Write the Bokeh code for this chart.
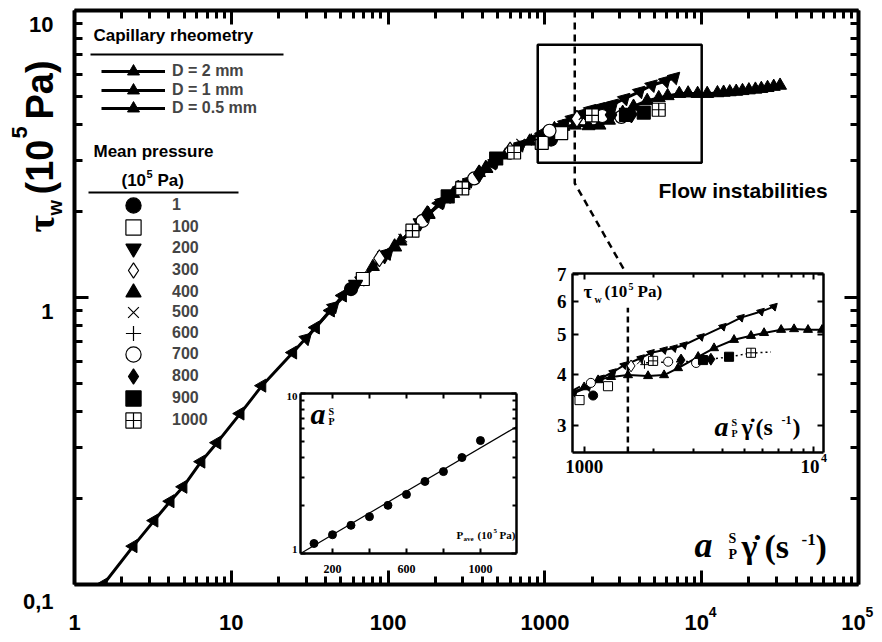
import math
from bokeh.plotting import figure
from bokeh.models import (FixedTicker, LogAxis, LinearAxis, Label, Legend, LegendItem,
                          BoxAnnotation, InlineStyleSheet, Range1d)
from bokeh.embed import file_html
from bokeh.resources import INLINE

SANS = "Liberation Sans"
SERIF = "Liberation Serif"

# ------------------------------------------------------------------ data
# capillary rheometry, D = 2 mm
d2_x = [1.53, 2.37, 3.22, 4.08, 4.93, 6.42, 8.11, 11.4, 15.7, 24.7, 34.5, 43.0, 51.3,
        68.7, 97.7, 143, 212, 315, 461, 655, 959]
d2_y = [0.100, 0.136, 0.167, 0.195, 0.219, 0.268, 0.312, 0.394, 0.493, 0.643, 0.786, 0.901, 1.016,
        1.17, 1.42, 1.71, 2.13, 2.50, 2.93, 3.33, 3.73]
# D = 1 mm
d1_x = [30, 45, 68, 100, 150, 220, 330, 480, 700, 905, 1041, 1186, 1337, 1493, 1770, 1955,
        2228, 2462, 2721, 3226, 4019, 4815, 5884, 6699]
d1_y = [0.72, 0.93, 1.16, 1.43, 1.75, 2.16, 2.55, 2.97, 3.40, 3.60, 3.72, 3.91, 4.05, 4.21, 4.38, 4.51,
        4.58, 4.63, 4.71, 4.93, 5.22, 5.49, 5.68, 5.84]
# D = 0.5 mm
d05_x = [80, 120, 180, 260, 380, 560, 800, 1000, 1150, 1310, 1552, 1897, 2228, 2563, 3133, 3675,
         4490, 5321, 6065, 7194, 8190, 9419, 10840, 12600, 13800, 15100, 16600, 18200, 20000,
         22000, 24000, 26300, 28800, 31600]
d05_y = [1.28, 1.57, 1.95, 2.30, 2.72, 3.13, 3.50, 3.72, 3.87, 3.94, 3.98, 3.96, 3.98, 4.14, 4.41, 4.63,
         4.85, 4.96, 5.04, 5.13, 5.15, 5.13, 5.13, 5.16, 5.18, 5.20, 5.22, 5.25, 5.28,
         5.31, 5.34, 5.38, 5.43, 5.48]

# mean-pressure series (10^5 Pa)
pressure_labels = ["1", "100", "200", "300", "400", "500", "600", "700", "800", "900", "1000"]
p1_x = [58, 1094];                    p1_y = [1.07, 3.55]
p100_x = [69, 955, 1270];             p100_y = [1.16, 3.46, 3.74]
p200_x = [62, 95, 160, 300];          p200_y = [1.11, 1.40, 1.82, 2.46]
p300_x = [88, 600, 1600];             p300_y = [1.37, 3.25, 4.19]
p400_x = [110, 180, 280, 420];        p400_y = [1.50, 1.95, 2.40, 2.82]
p500_x = [124, 235, 700, 1750];       p500_y = [1.61, 2.20, 3.45, 4.30]
p600_x = [150, 300, 820, 1830];       p600_y = [1.74, 2.45, 3.55, 4.22]
p700_x = [166, 354, 1070, 2320, 3070]; p700_y = [1.85, 2.60, 3.81, 4.29, 4.26]
p800_x = [178, 381, 2640, 3560];      p800_y = [1.95, 2.70, 4.33, 4.35]
p900_x = [240, 489, 3290, 4270];      p900_y = [2.25, 3.05, 4.33, 4.41]
p1000_x = [143, 297, 636, 1995, 5320]; p1000_y = [1.71, 2.40, 3.20, 4.31, 4.51]
dotted_x = [1770, 3000, 4300, 5300, 6500]
dotted_y = [4.26, 4.30, 4.41, 4.50, 4.53]

# shift factor inset
ap_p = [100, 200, 300, 400, 500, 600, 700, 800, 900, 1000]
ap_val = [1.155, 1.31, 1.50, 1.70, 2.00, 2.34, 2.82, 3.25, 3.98, 5.08]
fit_p = [27, 1195]
fit_a = [1.0, 6.2]

# zoom box, connector and onset line
box_x = [900, 10000]
box_y = [2.95, 7.6]
conn_x = [1550, 1550, 3280]
conn_y = [10, 2.5, 1.22]
idash_x = [1550, 1550]
idash_y = [2.58, 5.8]

# tick labels
xtick_vals = [1, 10, 100, 1000, 1e4, 1e5]
xtick_base = ["1", "10", "100", "1000", "10", "10"]
xtick_sup = ["", "", "", "", "4", "5"]
ytick_vals = [10, 1, 0.1]
ytick_text = ["10", "1", "0,1"]
i1_xticks = [1000, 10000]
i1_xtick_base = ["1000", "10"]
i1_xtick_sup = ["", "4"]
i1_yticks = [3, 4, 5, 6, 7]
i2_xticks = [200, 400, 600, 800, 1000]
i2_xlabels = [200, 600, 1000]
i2_yticks = [1, 10]

# ------------------------------------------------------------------ geometry (pixels)
MAIN = dict(L=74, R=858, T=10, B=584)
IN1 = dict(L=572, R=823, T=273, B=452)
IN2 = dict(L=300, R=516, T=393, B=553)
I1X = (890, 11000)
I1Y = (2.58, 7.03)
I2X = (27, 1195)
I2Y = (1, 10)
LEG_A_ROWS = [71, 89.5, 108]
LEG_B_ROWS = [205, 227, 248, 270, 292, 312, 333, 354, 376, 398, 420]


def logpos(v, a, b, p0, p1):
    return p0 + (p1 - p0) * (math.log10(v) - math.log10(a)) / (math.log10(b) - math.log10(a))


def mainX(v): return logpos(v, 1, 1e5, MAIN["L"], MAIN["R"])
def mainY(v): return logpos(v, 0.1, 10, MAIN["B"], MAIN["T"])
def in1X(v): return logpos(v, I1X[0], I1X[1], IN1["L"], IN1["R"])
def in1Y(v): return logpos(v, I1Y[0], I1Y[1], IN1["B"], IN1["T"])
def in2X(v): return IN2["L"] + (IN2["R"] - IN2["L"]) * (v - I2X[0]) / (I2X[1] - I2X[0])
def in2Y(v): return logpos(v, I2Y[0], I2Y[1], IN2["B"], IN2["T"])


def decade_minors(k0, k1):
    return [m * 10 ** k for k in range(k0, k1) for m in range(2, 10)]


def style_axes(fig, lw, mj, mn, tw):
    for ax in fig.axis:
        ax.axis_line_width = lw
        ax.major_tick_in = mj
        ax.major_tick_out = 0
        ax.minor_tick_in = mn
        ax.minor_tick_out = 0
        ax.major_tick_line_width = tw
        ax.minor_tick_line_width = tw
        ax.axis_label = None
        ax.major_label_text_font_size = "1px"
        ax.major_label_text_alpha = 0
        ax.major_label_standoff = 0


def absolute(fig, left, top):
    fig.stylesheets = [InlineStyleSheet(
        css=f":host {{ position: absolute !important; left: {left}px !important; top: {top}px !important; }}")]


# ------------------------------------------------------------------ main figure
p = figure(width=882, height=642, x_axis_type="log", y_axis_type="log",
           x_range=Range1d(1, 1e5), y_range=Range1d(0.1, 10),
           output_backend="svg", toolbar_location=None,
           min_border_left=MAIN["L"], min_border_right=882 - MAIN["R"],
           min_border_top=MAIN["T"], min_border_bottom=642 - MAIN["B"])
p.outline_line_color = None
p.grid.visible = False
p.add_layout(LogAxis(), "above")
p.add_layout(LogAxis(), "right")
xt = FixedTicker(ticks=xtick_vals, minor_ticks=decade_minors(0, 5))
yt = FixedTicker(ticks=ytick_vals, minor_ticks=decade_minors(-1, 1))
for ax in p.xaxis:
    ax.ticker = xt
for ax in p.yaxis:
    ax.ticker = yt
style_axes(p, 4, 14, 8, 3)
absolute(p, 0, 0)

p.add_layout(BoxAnnotation(left=box_x[0], right=box_x[1], bottom=box_y[0], top=box_y[1],
                           fill_alpha=0, line_color="black", line_alpha=1, line_width=2.5))
p.line(conn_x, conn_y, line_color="black", line_width=2.5, line_dash="7 5")

l2 = p.line(d2_x, d2_y, line_color="black", line_width=3)
s2 = p.scatter(d2_x, d2_y, marker="triangle", angle=math.pi / 2, size=13, color="black")
l1 = p.line(d1_x, d1_y, line_color="black", line_width=3)
s1 = p.scatter(d1_x, d1_y, marker="triangle", angle=-math.pi / 4, size=13, color="black")
l05 = p.line(d05_x, d05_y, line_color="black", line_width=3)
s05 = p.scatter(d05_x, d05_y, marker="triangle", size=13, color="black")

P_SERIES = [
    (p1_x, p1_y, "circle", "black", 13),
    (p100_x, p100_y, "square", "white", 13),
    (p200_x, p200_y, "inverted_triangle", "black", 14),
    (p300_x, p300_y, "diamond", "white", 17),
    (p400_x, p400_y, "triangle", "black", 14),
    (p500_x, p500_y, "x", "white", 12),
    (p600_x, p600_y, "cross", "white", 12),
    (p700_x, p700_y, "circle", "white", 13),
    (p800_x, p800_y, "diamond", "black", 17),
    (p900_x, p900_y, "square", "black", 13),
    (p1000_x, p1000_y, "square_cross", "white", 13),
]
p_renderers = []
for xs, ys, mk, fc, sz in P_SERIES:
    p_renderers.append(p.scatter(xs, ys, marker=mk, size=sz, fill_color=fc,
                                 line_color="black", line_width=1.2))


def one_legend(label, renderers, row_center, x_left, gw, gh, standoff):
    leg = Legend(items=[LegendItem(label=label, renderers=renderers)],
                 location=(x_left - MAIN["L"], MAIN["B"] - row_center - gh / 2),
                 glyph_width=gw, glyph_height=gh, spacing=0, padding=0, margin=0,
                 label_standoff=standoff, border_line_color=None, background_fill_alpha=0,
                 label_text_font=SANS, label_text_font_style="bold", label_text_font_size="16px",
                 label_height=16)
    p.add_layout(leg)


for lab, rs, yc in zip(["D = 2 mm", "D = 1 mm", "D = 0.5 mm"],
                       [[l2, s2], [l1, s1], [l05, s05]], LEG_A_ROWS):
    one_legend(lab, rs, yc, 101, 64, 30, 7)
for lab, r, yc in zip(pressure_labels, p_renderers, LEG_B_ROWS):
    one_legend(lab, [r], yc, 114, 38, 38, 20)

# ------------------------------------------------------------------ inset 1 (zoom)
B1 = 3
i1 = figure(width=IN1["R"] - IN1["L"] + 2 * B1, height=IN1["B"] - IN1["T"] + 2 * B1,
            x_axis_type="log", y_axis_type="log",
            x_range=Range1d(*I1X), y_range=Range1d(*I1Y),
            output_backend="svg", toolbar_location=None,
            min_border_left=B1, min_border_right=B1, min_border_top=B1, min_border_bottom=B1)
i1.outline_line_color = None
i1.grid.visible = False
i1.border_fill_alpha = 0
i1.background_fill_color = "white"
i1.add_layout(LogAxis(), "above")
i1.add_layout(LogAxis(), "right")
for ax in i1.xaxis:
    ax.ticker = FixedTicker(ticks=i1_xticks, minor_ticks=decade_minors(3, 4))
for ax in i1.yaxis:
    ax.ticker = FixedTicker(ticks=i1_yticks, minor_ticks=[])
style_axes(i1, 2.5, 6, 4, 2)

i1.line(idash_x, idash_y, line_color="black", line_width=2.5, line_dash="6 4")
i1.line(d2_x, d2_y, line_color="black", line_width=2)
i1.line(d1_x, d1_y, line_color="black", line_width=2)
i1.scatter(d1_x, d1_y, marker="triangle", angle=-math.pi / 4, size=8, color="black")
i1.line(d05_x, d05_y, line_color="black", line_width=2)
i1.scatter(d05_x, d05_y, marker="triangle", size=9, color="black")
i1.line(dotted_x, dotted_y, line_color="black", line_width=1.5, line_dash="2 3")
for xs, ys, mk, fc, sz in P_SERIES:
    i1.scatter(xs, ys, marker=mk, size=sz * 0.7, fill_color=fc, line_color="black", line_width=1)
absolute(i1, IN1["L"] - B1, IN1["T"] - B1)

# ------------------------------------------------------------------ inset 2 (shift factor)
B2 = 3
i2 = figure(width=IN2["R"] - IN2["L"] + 2 * B2, height=IN2["B"] - IN2["T"] + 2 * B2,
            y_axis_type="log", x_range=Range1d(*I2X), y_range=Range1d(*I2Y),
            output_backend="svg", toolbar_location=None,
            min_border_left=B2, min_border_right=B2, min_border_top=B2, min_border_bottom=B2)
i2.outline_line_color = None
i2.grid.visible = False
i2.border_fill_alpha = 0
i2.background_fill_color = "white"
i2.add_layout(LinearAxis(), "above")
i2.add_layout(LogAxis(), "right")
for ax in i2.xaxis:
    ax.ticker = FixedTicker(ticks=i2_xticks, minor_ticks=[])
for ax in i2.yaxis:
    ax.ticker = FixedTicker(ticks=i2_yticks, minor_ticks=decade_minors(0, 1))
style_axes(i2, 2.5, 5, 4, 2)
i2.line(fit_p, fit_a, line_color="black", line_width=1.2)
i2.scatter(ap_p, ap_val, marker="circle", size=8, color="black")
absolute(i2, IN2["L"] - B2, IN2["T"] - B2)

# ------------------------------------------------------------------ text overlay (pixel space)
ov = figure(width=882, height=642, x_range=Range1d(0, 882), y_range=Range1d(642, 0),
            x_axis_location=None, y_axis_location=None,
            output_backend="svg", toolbar_location=None, min_border=0,
            min_border_left=0, min_border_right=0, min_border_top=0, min_border_bottom=0)
ov.outline_line_color = None
ov.grid.visible = False
ov.background_fill_alpha = 0
ov.border_fill_alpha = 0
absolute(ov, 0, 0)


def T(X, Y, text, size, font=SANS, style="bold", align="left", baseline="alphabetic", angle=0.0):
    # (X, Y) is the baseline position; text is anchored by its middle for predictable placement
    if baseline == "alphabetic":
        k = (0.347 if font == SANS else 0.3375) * size
        if angle == 0.0:
            Y = Y - k
        else:
            X = X - k
        baseline = "middle"
    ov.add_layout(Label(x=X, y=Y, text=text, text_font=font, text_font_size=f"{size}px",
                        text_font_style=style, text_align=align, text_baseline=baseline,
                        angle=angle, text_color="black"))


def rule(x0, x1, y):
    ov.add_layout(BoxAnnotation(left=x0, right=x1, top=y - 1, bottom=y + 1,
                                fill_color="black", fill_alpha=1, line_alpha=0))


# main tick labels
for v, b, s in zip(xtick_vals, xtick_base, xtick_sup):
    if s:
        T(mainX(v) - 5, 630, b, 22, align="center")
        T(mainX(v) + 7, 616, s, 14)
    else:
        T(mainX(v), 630, b, 22, align="center")
for v, t in zip(ytick_vals, ytick_text):
    T(53, mainY(v) + (25 if v < 1 else 22), t, 22, align="right")

# legend headings
T(93, 41, "Capillary rheometry", 17)
rule(90, 283, 54)
T(93, 157, "Mean pressure", 17)
T(121, 186, "(10", 17)
T(146, 177, "5", 11)
T(157, 186, "Pa)", 17)
rule(88, 238, 192)

T(658, 197, "Flow instabilities", 21)

# main y title (rotated)
up = math.pi / 2
T(53, 232, "\u03c4", 38, font=SERIF, angle=up)
T(61, 215, "w", 20, angle=up)
T(53, 194, "(10", 38, angle=up)
T(27, 138, "5", 22, angle=up)
T(53, 119, "Pa)", 38, angle=up)

# main x title
T(694, 557, "a", 36, font=SERIF, style="bold italic")
T(728, 543, "S", 14, font=SERIF)
T(728, 559, "P", 14, font=SERIF)
T(741, 557, "\u03b3\u0307", 34, font=SERIF)
T(764, 557, "(s", 34, font=SERIF)
T(801, 545, "-1", 17, font=SERIF)
T(815, 557, ")", 34, font=SERIF)

# inset 1 tick labels and texts
for v in i1_yticks:
    T(IN1["L"] - 6, in1Y(v), str(v), 19, font=SERIF, align="right", baseline="middle")
for v, b, s in zip(i1_xticks, i1_xtick_base, i1_xtick_sup):
    if s:
        T(in1X(v) - 4, 472, b, 19, font=SERIF, align="center")
        T(in1X(v) + 7, 462, s, 12, font=SERIF)
    else:
        T(in1X(v), 472, b, 19, font=SERIF, align="center")
T(583, 297, "\u03c4", 19, font=SERIF)
T(594, 302, "w", 10, font=SERIF)
T(604, 297, "(10", 17, font=SERIF)
T(628, 289, "5", 10, font=SERIF)
T(637, 297, "Pa)", 17, font=SERIF)
T(714, 435, "a", 28, font=SERIF, style="bold italic")
T(731, 425, "S", 10, font=SERIF)
T(731, 436, "P", 10, font=SERIF)
T(741, 435, "\u03b3\u0307", 24, font=SERIF)
T(755, 435, "(s", 24, font=SERIF)
T(781, 424, "-1", 12, font=SERIF)
T(792, 435, ")", 24, font=SERIF)

# inset 2 tick labels and texts
T(IN2["L"] - 3, in2Y(10) + 3, "10", 11, font=SERIF, align="right", baseline="middle")
T(IN2["L"] - 3, in2Y(1) - 4, "1", 11, font=SERIF, align="right", baseline="middle")
for v in i2_xlabels:
    T(in2X(v), 573, str(v), 12, font=SERIF, align="center")
T(310, 423, "a", 30, font=SERIF, style="bold italic")
T(328, 414, "S", 10, font=SERIF)
T(328, 424, "P", 10, font=SERIF)
T(456, 538, "P", 11, font=SERIF)
T(463, 541, "ave", 7, font=SERIF)
T(477, 538, "(10", 11, font=SERIF)
T(493, 533, "5", 7, font=SERIF)
T(499, 538, "Pa)", 11, font=SERIF)

open("out.html", "w").write(file_html([p, i1, i2, ov], INLINE))
